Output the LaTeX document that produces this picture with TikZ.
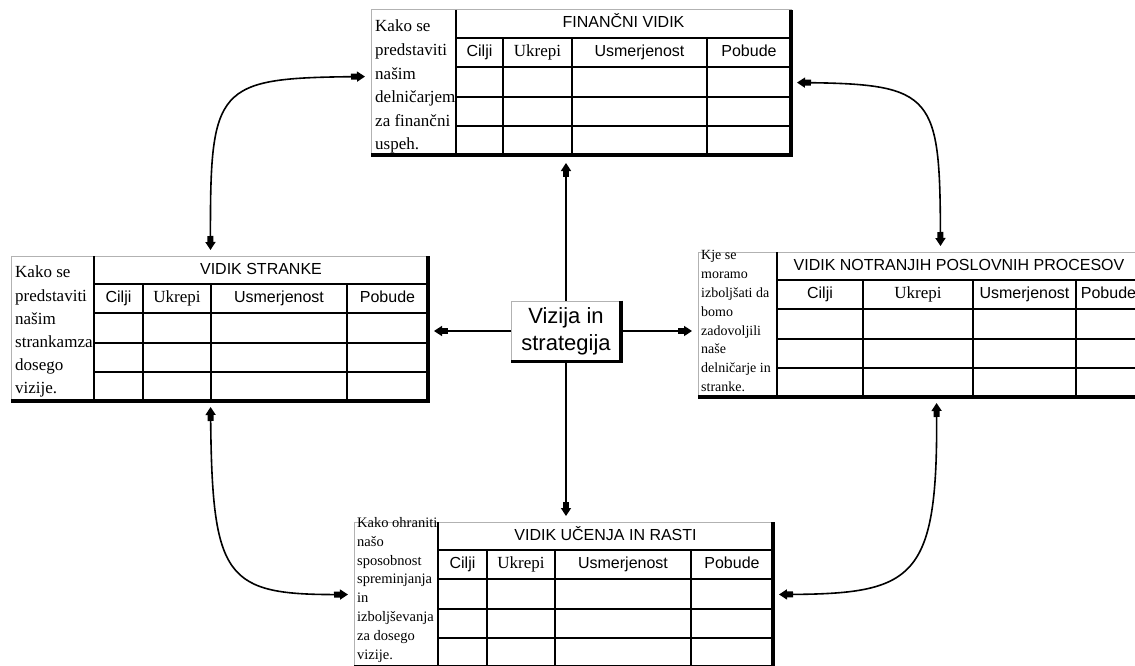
\documentclass[tikz,border=0pt]{standalone}
\usepackage{fontspec}
\setmainfont{Liberation Serif}
\setsansfont{Liberation Sans}
\usetikzlibrary{arrows.meta}

\tikzset{
  frame/.style={draw=black!30,line width=1pt},
  gridline/.style={draw=black,line width=1.6pt},
  edgeline/.style={draw=black,line width=3.4pt,line join=miter},
  head/.style={font=\sffamily\fontsize{16}{18}\selectfont,inner sep=0pt,
    text height=11.5pt,text depth=3.5pt},
  headrm/.style={head,font=\rmfamily\fontsize{17}{18}\selectfont},
  desc/.style={align=left,inner sep=0pt,anchor=north west},
  vbox/.style={frame,fill=white,align=center,inner sep=0pt,
    minimum width=109pt,minimum height=60pt,
    font=\sffamily\fontsize{22}{27}\selectfont},
  conn/.style={line width=1.6pt,
    -{Square[length=6pt,width=6pt]Triangle[length=8pt,width=10pt]},
    shorten >=6pt},
  link/.style={line width=1.6pt,
    {Triangle[length=8pt,width=10pt]Square[length=6pt,width=6pt]}-{Square[length=6pt,width=6pt]Triangle[length=8pt,width=10pt]},
    shorten <=6pt,shorten >=6pt}
}

% #1 name, #2 left, #3 top, #4 text column, #5-#7 columns, #8 right, #9 title
\newcommand{\bsctable}[9]{%
  \node[inner sep=0pt,outer sep=0pt,anchor=north west,
    minimum width={(#8-(#2))*1pt},minimum height=145pt] (#1) at (#2,#3) {};
  \draw[frame] (#2,#3) rectangle (#8,{#3+145});
  \draw[gridline] (#4,#3) -- (#4,{#3+145});
  \foreach \yy in {28,57,87,116} {\draw[gridline] (#4,{#3+\yy}) -- (#8,{#3+\yy});}
  \foreach \xx in {#5,#6,#7} {\draw[gridline] (\xx,{#3+28}) -- (\xx,{#3+145});}
  \draw[edgeline] (#8,#3) -- (#8,{#3+145}) -- (#2,{#3+145});
  \node[head] at ({(#4+#8)/2},{#3+14}) {#9};
  \node[head] at ({(#4+#5)/2},{#3+42.5}) {Cilji};
  \node[headrm] at ({(#5+#6)/2},{#3+42.5}) {Ukrepi};
  \node[head] at ({(#6+#7)/2},{#3+42.5}) {Usmerjenost};
  \node[head] at ({(#7+#8)/2},{#3+42.5}) {Pobude};
}

\begin{document}
\begin{tikzpicture}[x=1pt,y=-1pt]
  \useasboundingbox (0,0) rectangle (1135,666);
  \clip (0,0) rectangle (1135,666);

  \bsctable{fin}{371}{10}{456}{503}{572}{707}{791}{FINANČNI VIDIK}
  \bsctable{str}{11}{256}{94}{143}{211}{347}{428}{VIDIK STRANKE}
  \bsctable{proc}{698}{252}{777}{863}{973}{1076}{1141}{VIDIK NOTRANJIH POSLOVNIH PROCESOV}
  \bsctable{uc}{354}{522}{438}{487}{555}{691}{773}{VIDIK UČENJA IN RASTI}

  \node[desc,font=\fontsize{17}{23.6}\selectfont] (fin-t) at (375,20)
    {Kako se\\predstaviti\\našim\\delničarjem\\za finančni\\uspeh.};
  \node[desc,font=\fontsize{17}{23.2}\selectfont] (str-t) at (15,266)
    {Kako se\\predstaviti\\našim\\strankamza\\dosego\\vizije.};
  \node[desc,font=\fontsize{14}{18.9}\selectfont] (proc-t) at (701,250)
    {Kje se\\moramo\\izboljšati da\\bomo\\zadovoljili\\naše\\delničarje in\\stranke.};
  \node[desc,font=\fontsize{14.5}{18.9}\selectfont] (uc-t) at (357,517)
    {Kako ohraniti\\našo\\sposobnost\\spreminjanja\\in\\izboljševanja\\za dosego\\vizije.};

  \node[vbox] (viz) at (566,331) {Vizija in\\strategija};
  \draw[edgeline] (viz.north east) -- (viz.south east) -- (viz.south west);

  \draw[conn,shorten >=8pt] (viz.north) -- (viz.north |- fin.south);
  \draw[conn] (viz.south) -- (viz.south |- uc.north);
  \draw[conn] (viz.west) -- (viz.west -| str.east);
  \draw[conn] (viz.east) -- (viz.east -| proc.west);

  \draw[link] ([yshift=6pt]fin.west) .. controls (215,78) and (210,85) .. ([xshift=-9pt]str.north);
  \draw[link] (fin.east) .. controls (935,84) and (940,95) .. ([xshift=21pt]proc.north);
  \draw[link] ([xshift=-9pt]str.south) .. controls (212,580) and (225,595) .. (uc.west);
  \draw[link] ([xshift=17pt]proc.south) .. controls (938,580) and (915,594) .. (uc.east);
\end{tikzpicture}
\end{document}
